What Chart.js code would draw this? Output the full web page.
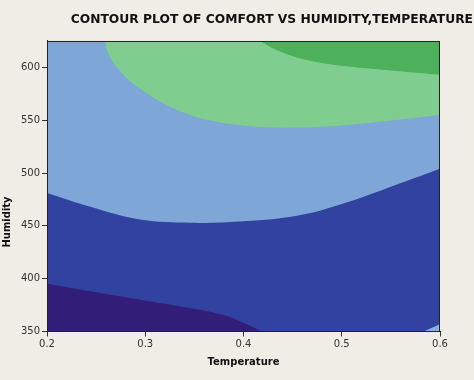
<!DOCTYPE html>
<html>
<head>
<meta charset="utf-8">
<script src="https://cdn.jsdelivr.net/npm/chart.js@4/dist/chart.umd.min.js"></script>
<style>
  html, body { margin: 0; padding: 0; background: #f0ece6; }
  #wrap { width: 474px; height: 380px; }
</style>
</head>
<body>
<div id="wrap"><canvas id="c" width="474" height="380"></canvas></div>
<script>
// ---- data ----
const xTicks = [0.2, 0.3, 0.4, 0.5, 0.6];
const yTicks = [350, 400, 450, 500, 550, 600];

// boundary: dark blue band (below) / light blue band (above)
const darkBlueX = [0.2, 0.244, 0.295, 0.346, 0.396, 0.457, 0.508, 0.559, 0.6];
const darkBlueY = [481, 468, 456, 453, 454, 460, 473, 490, 504];

// boundary: navy band (bottom-left)
const navyX = [0.2, 0.244, 0.295, 0.346, 0.38, 0.398, 0.41, 0.418];
const navyY = [395.5, 388, 380, 372, 365.5, 359, 354, 350];

// small light-blue patch in bottom-right corner
const cornerX = [0.583, 0.592, 0.6];
const cornerY = [350, 353.5, 357];

// boundary: light green band (top)
const lightGreenX = [0.259, 0.2625, 0.2715, 0.2845, 0.3065, 0.332, 0.3625, 0.4065, 0.447, 0.505, 0.6];
const lightGreenY = [625, 613, 600, 587, 572.5, 560, 550.5, 544.5, 543, 545.5, 555];

// boundary: dark green band (top-right)
const darkGreenX = [0.4167, 0.437, 0.4706, 0.505, 0.5387, 0.6];
const darkGreenY = [625, 615, 605.7, 601, 598, 593];

const xMin = 0.2, xMax = 0.6, yMin = 350, yMax = 625;

const colors = {
  bg: '#f0ece6',
  lightBlue: '#7ea6d6',
  darkBlue: '#3142a0',
  navy: '#321e78',
  corner: '#8db0e2',
  lightGreen: '#7fce90',
  darkGreen: '#4db05a'
};

function pts(xs, ys) { return xs.map((x, i) => ({ x: x, y: ys[i] })); }

function band(label, xs, ys, color, fill) {
  return {
    label: label,
    data: pts(xs, ys),
    borderWidth: 0,
    borderColor: color,
    backgroundColor: color,
    pointRadius: 0,
    tension: 0.4,
    fill: fill
  };
}

const areaPlugin = {
  id: 'areaPlugin',
  beforeDatasetsDraw(chart) {
    const { ctx, chartArea: a } = chart;
    ctx.save();
    ctx.fillStyle = colors.lightBlue;
    ctx.fillRect(a.left, a.top, a.right - a.left, a.bottom - a.top);
    ctx.restore();
  },
  afterDatasetsDraw(chart) {
    const { ctx, chartArea: a } = chart;
    ctx.save();
    ctx.strokeStyle = '#222';
    ctx.lineWidth = 1;
    ctx.strokeRect(Math.round(a.left) + 0.5, Math.round(a.top) + 0.5,
                   Math.round(a.right - a.left) - 1, Math.round(a.bottom - a.top) - 1);
    ctx.restore();
  },
  afterDraw(chart) {
    // y-axis title, placed where the reference has it (lower than centre)
    const { ctx } = chart;
    ctx.save();
    ctx.translate(7, 222);
    ctx.rotate(-Math.PI / 2);
    ctx.fillStyle = '#111';
    ctx.font = 'bold 10px "DejaVu Sans"';
    ctx.textAlign = 'center';
    ctx.textBaseline = 'middle';
    ctx.fillText('Humidity', 0, 0);
    ctx.restore();
  }
};

new Chart(document.getElementById('c'), {
  type: 'line',
  data: {
    datasets: [
      band('Navy', navyX, navyY, colors.navy, 'start'),
      band('Corner', cornerX, cornerY, colors.corner, 'start'),
      band('Dark green', darkGreenX, darkGreenY, colors.darkGreen, 'end'),
      band('Dark blue', darkBlueX, darkBlueY, colors.darkBlue, 'start'),
      band('Light green', lightGreenX, lightGreenY, colors.lightGreen, 'end')
    ]
  },
  options: {
    responsive: false,
    animation: false,
    devicePixelRatio: 1,
    layout: { padding: { left: 0, right: 1, top: 0, bottom: 0 } },
    plugins: {
      legend: { display: false },
      tooltip: { enabled: false },
      title: {
        display: true,
        text: 'CONTOUR PLOT OF COMFORT VS HUMIDITY,TEMPERATURE',
        align: 'end',
        color: '#111',
        font: { family: 'DejaVu Sans', size: 12.3, weight: 'bold', lineHeight: 1.2 },
        padding: { top: 12, bottom: 14.2 }
      },
      filler: { propagate: false }
    },
    scales: {
      x: {
        type: 'linear',
        min: xMin, max: xMax,
        afterBuildTicks: s => { s.ticks = xTicks.map(v => ({ value: v })); },
        afterFit: s => { s.height = 48.5; },
        ticks: {
          color: '#333',
          font: { family: 'DejaVu Sans', size: 10 },
          padding: 2,
          maxRotation: 0,
          autoSkip: false,
          callback: v => v.toFixed(1)
        },
        grid: { drawOnChartArea: false, tickLength: 5, color: '#333' },
        border: { color: '#222' },
        title: {
          display: true,
          text: 'Temperature',
          color: '#111',
          font: { family: 'DejaVu Sans', size: 10, weight: 'bold' },
          padding: { top: 0, bottom: 12 }
        }
      },
      y: {
        type: 'linear',
        min: yMin, max: yMax,
        afterBuildTicks: s => { s.ticks = yTicks.map(v => ({ value: v })); },
        afterFit: s => { s.width = 47; },
        ticks: {
          color: '#333',
          font: { family: 'DejaVu Sans', size: 10 },
          padding: 2,
          autoSkip: false
        },
        grid: { drawOnChartArea: false, tickLength: 5, color: '#333' },
        border: { color: '#222' },
        title: { display: false }
      },
      yRight: {
        type: 'linear',
        position: 'right',
        min: yMin, max: yMax,
        afterFit: s => { s.width = 33; },
        ticks: { display: false },
        grid: { display: false },
        border: { display: false }
      }
    }
  },
  plugins: [areaPlugin]
});
</script>
</body>
</html>
